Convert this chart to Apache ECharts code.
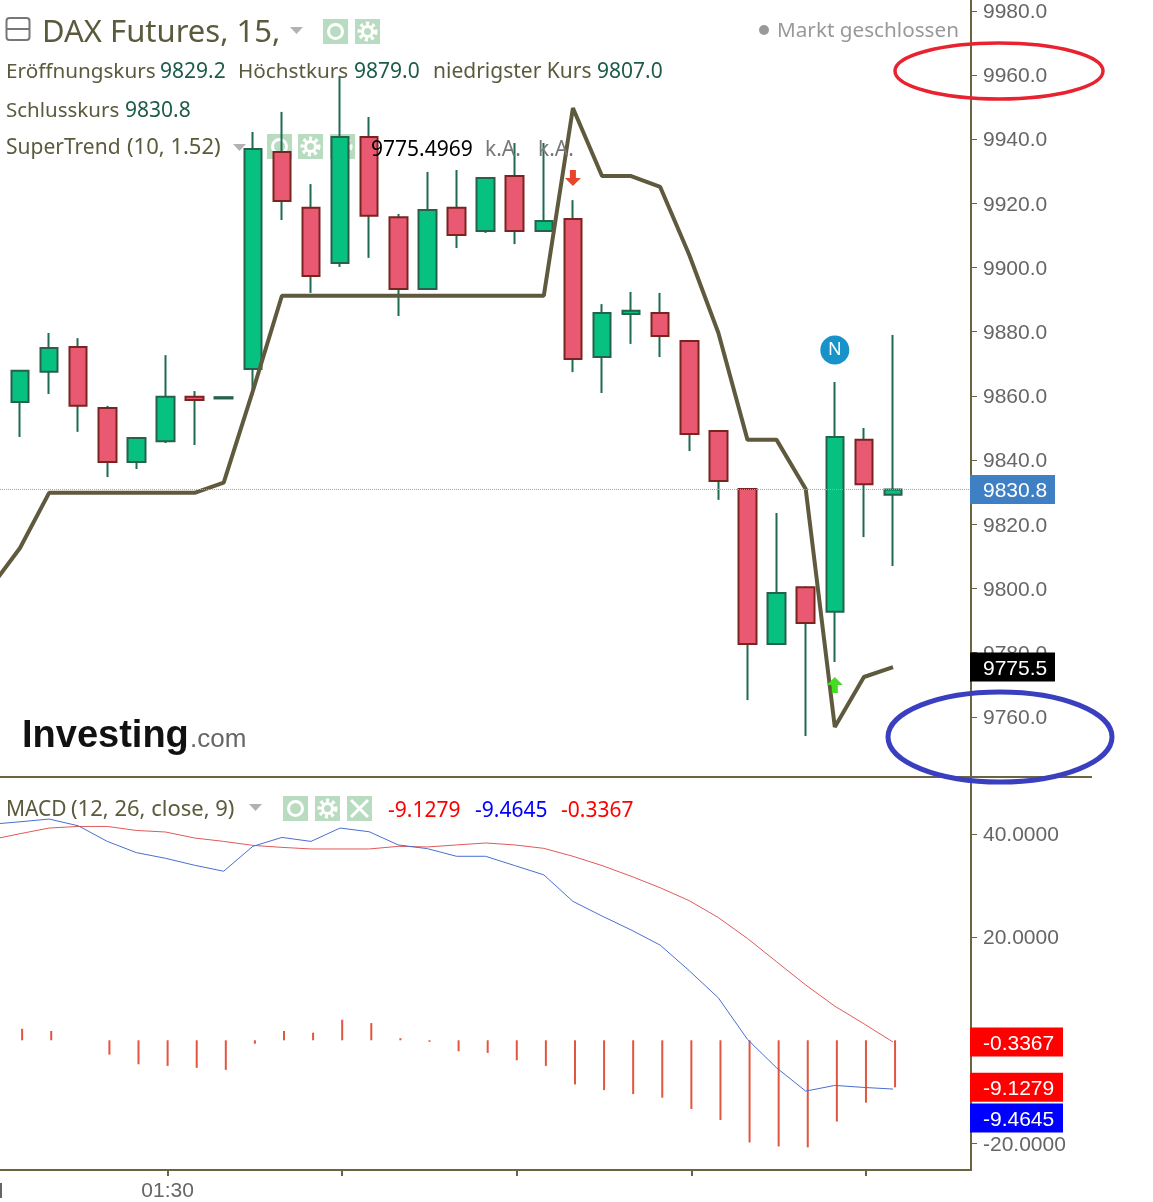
<!DOCTYPE html>
<html>
<head>
<meta charset="utf-8">
<title>DAX Futures</title>
<style>
  html, body { margin: 0; padding: 0; background: #fff; }
  #main { width: 1153px; height: 1202px; }
</style>
<script src="https://cdn.jsdelivr.net/npm/echarts@6/dist/echarts.min.js"></script>
</head>
<body>
<div id="main"></div>
<script>
// candles, index 0 is the one cut off at the left edge
var opens  = [9844.1, 9858.1, 9867.5, 9875.2, 9856.2, 9839.4, 9845.9, 9859.7, 9859.2, 9868.4, 9936.0, 9918.6, 9901.4, 9940.7, 9915.7, 9893.3,
              9918.6, 9911.4, 9928.5, 9911.4, 9915.1, 9872.1, 9885.5, 9885.8, 9877.1, 9849.1, 9831.0, 9782.7, 9800.4, 9792.7, 9846.3, 9829.2];
var closes = [9853.4, 9867.8, 9874.9, 9856.9, 9839.4, 9846.9, 9859.7, 9858.7, 9859.6, 9936.9, 9920.7, 9897.4, 9940.7, 9916.1, 9893.3, 9917.9,
              9910.1, 9927.9, 9911.4, 9914.5, 9871.5, 9885.8, 9886.5, 9878.7, 9848.1, 9833.5, 9782.7, 9798.6, 9789.2, 9847.2, 9832.5, 9830.8];
var lows   = [9843.0, 9847.2, 9860.6, 9848.8, 9834.7, 9837.2, 9845.3, 9844.7, 9859.2, 9860.3, 9914.8, 9892.1, 9900.2, 9903.0, 9884.9, 9893.0,
              9906.1, 9910.8, 9907.3, 9911.4, 9867.4, 9860.9, 9876.2, 9872.1, 9842.8, 9827.6, 9765.2, 9782.5, 9754.0, 9777.1, 9816.0, 9807.0];
var highs  = [9854.0, 9868.0, 9879.6, 9878.0, 9856.9, 9847.2, 9872.7, 9861.5, 9859.6, 9942.2, 9948.5, 9926.0, 9959.7, 9946.9, 9916.7, 9929.8,
              9930.4, 9928.2, 9938.8, 9938.8, 9921.0, 9888.6, 9892.4, 9892.1, 9877.3, 9849.3, 9831.2, 9823.5, 9800.6, 9864.3, 9850.0, 9879.0];
var superTrend = [9800.4, 9812.6, 9829.8, 9829.8, 9829.8, 9829.8, 9829.8, 9829.8, 9833.0, 9861.5, 9891.2, 9891.2, 9891.2, 9891.2, 9891.2, 9891.2,
                  9891.2, 9891.2, 9891.2, 9891.2, 9949.7, 9928.5, 9928.5, 9925.1, 9903.9, 9879.6, 9846.3, 9846.3, 9831.0, 9756.8, 9772.4, 9775.5];

// MACD pane
var macdLine = [41.91, 42.39, 42.92, 41.62, 38.59, 36.41, 35.31, 33.96, 32.80, 37.63, 39.36, 38.59, 41.18, 40.46, 37.90, 37.18,
                35.70, 35.70, 33.90, 32.10, 26.95, 24.11, 21.41, 18.46, 13.49, 8.22, 0.17, -5.35, -9.86, -8.76, -9.15, -9.4645];
var signalLine = [38.92, 40.08, 41.18, 41.49, 41.49, 40.71, 40.41, 39.25, 38.59, 37.82, 37.43, 37.12, 37.12, 37.12, 37.63, 37.51,
                  37.90, 38.28, 37.90, 37.24, 35.70, 33.90, 31.83, 29.59, 27.08, 23.80, 19.75, 15.23, 10.73, 6.62, 3.20, -0.3367];
var histogram = [0, 2.24, 1.80, 0, -2.78, -4.65, -4.97, -5.35, -5.74, -0.66, 1.80, 1.47, 3.98, 3.34, 0.40, -0.30,
                 -2.14, -2.45, -3.88, -4.97, -8.57, -9.67, -10.44, -11.14, -13.34, -15.46, -19.83, -20.60, -20.79, -15.77, -12.10, -9.1279];

// tick labels
var priceTicks = [9980, 9960, 9940, 9920, 9900, 9880, 9860, 9840, 9820, 9800, 9780, 9760];
var macdTicks = [40, 20, -20];
var timeTicks = [6, 12, 18, 24, 30];
var timeLabels = ['01:30', '', '', '', ''];

// markers on the price pane: [candle index, price]
var sellArrow = [[20, 9927.9]];
var buyArrow = [[29, 9769.9]];
var newsMark = [[29, 9874.3]];

var lastClose = 9830.8;
var lastTrend = 9775.5;

var AXIS_COLOR = '#6b6440';
var LABEL_FONT = '"Liberation Sans", Arial, sans-serif';
var UI_FONT = '"Noto Sans", sans-serif';

function pairs(list) {
  return list.map(function (v, i) { return [i, v]; });
}

// wicks are dark green on every candle, so they get their own series under the bodies
var wickData = opens.map(function (o, i) { return [i, o, closes[i], lows[i], highs[i]]; });
var bodyData = opens.map(function (o, i) {
  return [i, o, closes[i], Math.min(o, closes[i]), Math.max(o, closes[i])];
});

function xAxisFor(gridIndex, min, max) {
  return {
    type: 'value', gridIndex: gridIndex, min: min, max: max, show: false,
    splitLine: { show: false }
  };
}

// y labels sit a bit lower than plain middle alignment, the rich padding does that
var yLabelRich = { a: { color: '#666', fontFamily: LABEL_FONT, fontSize: 21, padding: [3, 0, 0, 0] } };

var chart = echarts.init(document.getElementById('main'));

var option = {
  animation: false,
  backgroundColor: '#fff',
  grid: [
    { left: 0, top: 0, width: 971, height: 777 },
    { left: 0, top: 778, width: 971, height: 394 }
  ],
  xAxis: [
    xAxisFor(0, 0.3127, 33.68),
    xAxisFor(1, 0.3127, 33.68),
    // the histogram and the time ticks sit about 2px right of the candles
    {
      type: 'value', gridIndex: 1, position: 'bottom', min: 0.24, max: 33.61,
      splitLine: { show: false },
      axisLine: { onZero: false, lineStyle: { color: AXIS_COLOR, width: 2 } },
      axisTick: { customValues: timeTicks, length: 6, lineStyle: { color: AXIS_COLOR, width: 2 } },
      axisLabel: {
        customValues: [timeTicks[0]],
        margin: 11, color: '#666', fontFamily: LABEL_FONT, fontSize: 21,
        formatter: function (v) { return timeLabels[timeTicks.indexOf(v)]; }
      }
    }
  ],
  yAxis: [
    {
      type: 'value', gridIndex: 0, position: 'right', min: 9741.24, max: 9983.37,
      splitLine: { show: false },
      axisLine: { show: true, onZero: false, lineStyle: { color: AXIS_COLOR, width: 2 } },
      axisTick: { show: true, customValues: priceTicks, length: 6, lineStyle: { color: AXIS_COLOR } },
      axisLabel: {
        customValues: priceTicks, margin: 12, rich: yLabelRich,
        formatter: function (v) { return '{a|' + v.toFixed(1) + '}'; }
      }
    },
    {
      type: 'value', gridIndex: 1, position: 'right', min: -25.17, max: 50.89,
      splitLine: { show: false },
      axisLine: { show: true, onZero: false, lineStyle: { color: AXIS_COLOR, width: 2 } },
      axisTick: { show: true, customValues: macdTicks, length: 6, lineStyle: { color: AXIS_COLOR } },
      axisLabel: {
        customValues: macdTicks, margin: 12, rich: yLabelRich,
        formatter: function (v) { return '{a|' + v.toFixed(4) + '}'; }
      }
    }
  ],
  series: [
    {
      type: 'candlestick', xAxisIndex: 0, yAxisIndex: 0, barWidth: 1, silent: true, z: 2,
      encode: { x: 0, y: [1, 2, 3, 4] },
      data: wickData,
      itemStyle: { color: '#1f6b50', color0: '#1f6b50', borderColor: '#1f6b50', borderColor0: '#1f6b50', borderWidth: 2 }
    },
    {
      type: 'candlestick', xAxisIndex: 0, yAxisIndex: 0, barWidth: 18, silent: true, z: 3,
      encode: { x: 0, y: [1, 2, 3, 4] },
      data: bodyData,
      itemStyle: { color: '#06c180', color0: '#e95a72', borderColor: '#27614c', borderColor0: '#7a2420', borderWidth: 2 },
      markLine: {
        symbol: 'none', silent: true, animation: false, label: { show: false },
        lineStyle: { type: 'dotted', color: '#8fa8c8', width: 1 },
        data: [{ yAxis: lastClose }]
      }
    },
    {
      type: 'line', xAxisIndex: 0, yAxisIndex: 0, showSymbol: false, silent: true, z: 4,
      data: pairs(superTrend),
      lineStyle: { color: '#5f5a3e', width: 4 }
    },
    {
      type: 'scatter', xAxisIndex: 0, yAxisIndex: 0, silent: true, z: 5,
      symbol: 'path://M5,0 H11 V8 H16 L8,16 L0,8 H5 Z', symbolSize: 16,
      data: sellArrow, itemStyle: { color: '#e8452c', opacity: 1 }
    },
    {
      type: 'scatter', xAxisIndex: 0, yAxisIndex: 0, silent: true, z: 5,
      symbol: 'path://M8,0 L16,8 H11 V16 H5 V8 H0 Z', symbolSize: 16,
      data: buyArrow, itemStyle: { color: '#44dd22', opacity: 1 }
    },
    {
      type: 'scatter', xAxisIndex: 0, yAxisIndex: 0, silent: true, z: 5,
      symbol: 'circle', symbolSize: 29,
      data: newsMark, itemStyle: { color: '#1793c9', opacity: 1 },
      label: { show: true, position: 'inside', formatter: 'N', color: '#fff', fontFamily: UI_FONT, fontSize: 18 }
    },
    {
      type: 'bar', xAxisIndex: 2, yAxisIndex: 1, barWidth: 2, silent: true,
      data: pairs(histogram),
      itemStyle: { color: '#e2553f' }
    },
    {
      type: 'line', xAxisIndex: 1, yAxisIndex: 1, showSymbol: false, silent: true,
      data: pairs(signalLine),
      lineStyle: { color: '#e05a5a', width: 1 }
    },
    {
      type: 'line', xAxisIndex: 1, yAxisIndex: 1, showSymbol: false, silent: true,
      data: pairs(macdLine),
      lineStyle: { color: '#4a6fd0', width: 1 }
    }
  ]
};
chart.setOption(option);

// ---- header texts, icons, price tags ----
// middle alignment draws about 2px high with these fonts, hence the +2
function txt(x, y, text, color, size, font, bold) {
  return {
    type: 'text', z: 20, silent: true,
    style: {
      x: x, y: y + 2, text: text, fill: color,
      font: (bold ? 'bold ' : '') + (size || 21) + 'px ' + (font || UI_FONT),
      verticalAlign: 'middle', align: 'left'
    }
  };
}
function caret(x, y) {
  return { type: 'polygon', z: 1, silent: true, shape: { points: [[x, y], [x + 13, y], [x + 6.5, y + 7]] }, style: { fill: '#b5b0b5' } };
}
// little green boxes with eye / gear / cross
function icon(x, y, kind) {
  var out = [{ type: 'rect', z: 1, silent: true, shape: { x: x, y: y, width: 25, height: 25 }, style: { fill: '#b9dcc1' } }];
  var cx = x + 12.5, cy = y + 12.5;
  if (kind == 'eye') {
    out.push({ type: 'circle', z: 1, silent: true, shape: { cx: cx, cy: cy, r: 7 }, style: { fill: 'none', stroke: '#fff', lineWidth: 3 } });
  } else if (kind == 'gear') {
    out.push({ type: 'circle', z: 1, silent: true, shape: { cx: cx, cy: cy, r: 8 }, style: { fill: 'none', stroke: '#fff', lineWidth: 4, lineDash: [3, 3] } });
    out.push({ type: 'circle', z: 1, silent: true, shape: { cx: cx, cy: cy, r: 5 }, style: { fill: 'none', stroke: '#fff', lineWidth: 3 } });
  } else {
    out.push({ type: 'line', z: 1, silent: true, shape: { x1: x + 4, y1: y + 4, x2: x + 21, y2: y + 21 }, style: { stroke: '#fff', lineWidth: 3 } });
    out.push({ type: 'line', z: 1, silent: true, shape: { x1: x + 21, y1: y + 4, x2: x + 4, y2: y + 21 }, style: { stroke: '#fff', lineWidth: 3 } });
  }
  return out;
}
function tag(x, y, w, text, fill) {
  return [
    { type: 'rect', z: 15, silent: true, shape: { x: x, y: y - 14.5, width: w, height: 29 }, style: { fill: fill } },
    txt(983, y, text, '#fff', 21, LABEL_FONT)
  ];
}

var OLIVE = '#5c5a3c', DKGREEN = '#1d5c4a';
var els = [];
els.push({ type: 'rect', z: 1, silent: true, shape: { x: 6.5, y: 18, width: 23, height: 22, r: 3 }, style: { fill: '#fff', stroke: '#777', lineWidth: 2 } });
els.push({ type: 'line', z: 1, silent: true, shape: { x1: 7, y1: 29, x2: 29, y2: 29 }, style: { stroke: '#777', lineWidth: 2 } });
els.push(txt(42, 31, 'DAX Futures, 15,', OLIVE, 31));
els.push(caret(290, 27));
els = els.concat(icon(323, 19, 'eye'), icon(355, 19, 'gear'));
els.push({ type: 'circle', z: 1, silent: true, shape: { cx: 764, cy: 30, r: 5 }, style: { fill: '#999' } });
els.push(txt(777, 29, 'Markt geschlossen', '#999', 20.7));

els.push(txt(6, 70, 'Eröffnungskurs', OLIVE, 20.7));
els.push(txt(160, 70, '9829.2', DKGREEN));
els.push(txt(238, 70, 'Höchstkurs', OLIVE, 20.7));
els.push(txt(354, 70, '9879.0', DKGREEN));
els.push(txt(433, 70, 'niedrigster Kurs', OLIVE));
els.push(txt(597, 70, '9807.0', DKGREEN));
els.push(txt(6, 109, 'Schlusskurs', OLIVE, 20.5));
els.push(txt(125, 109, '9830.8', DKGREEN));

els.push(txt(6, 146, 'SuperTrend', OLIVE));
els.push(txt(127, 146, '(10, 1.52)', OLIVE, 22));
els.push(caret(233, 144));
els = els.concat(icon(267, 134, 'eye'), icon(298, 134, 'gear'), icon(330, 134, 'gear'));
els.push(txt(371, 148, '9775.4969', '#000'));
els.push(txt(485, 148, 'k.A.', '#777'));
els.push(txt(538, 148, 'k.A.', '#777'));

els.push(txt(6, 808, 'MACD', OLIVE));
els.push(txt(71, 808, '(12, 26, close, 9)', OLIVE, 22));
els.push(caret(249, 804));
els = els.concat(icon(283, 796, 'eye'), icon(315, 796, 'gear'), icon(347, 796, 'x'));
els.push(txt(388, 809, '-9.1279', '#f00'));
els.push(txt(475, 809, '-9.4645', '#00f'));
els.push(txt(561, 809, '-0.3367', '#f00'));

// logo
els.push(txt(22, 735, 'Investing', '#111', 38, LABEL_FONT, true));
els.push(txt(190, 738, '.com', '#666', 26, LABEL_FONT));

// pane divider runs past the axis, cut-off label stub at the left
els.push({ type: 'line', z: 12, silent: true, shape: { x1: 0, y1: 777, x2: 1092, y2: 777 }, style: { stroke: AXIS_COLOR, lineWidth: 2 } });
els.push({ type: 'line', z: 12, silent: true, shape: { x1: 1, y1: 1183, x2: 1, y2: 1198 }, style: { stroke: '#666', lineWidth: 2 } });

// price tags follow the axis scale, the blue one is pushed down so it does not overlap
function py(v) { return chart.convertToPixel({ yAxisIndex: 0 }, v); }
function my(v) { return chart.convertToPixel({ yAxisIndex: 1 }, v); }
els = els.concat(tag(970, py(lastClose), 85, lastClose.toFixed(1), '#3f7fc4'));
els = els.concat(tag(970, py(lastTrend), 85, lastTrend.toFixed(1), '#000'));
var lastSignal = signalLine[signalLine.length - 1];
var lastHist = histogram[histogram.length - 1];
var lastMacd = macdLine[macdLine.length - 1];
els = els.concat(tag(970, my(lastSignal), 93, lastSignal.toFixed(4), '#f00'));
els = els.concat(tag(970, my(lastHist), 93, lastHist.toFixed(4), '#f00'));
els = els.concat(tag(970, my(lastMacd) + 29, 93, lastMacd.toFixed(4), '#00f'));

// hand drawn circles
els.push({ type: 'ellipse', z: 18, silent: true, shape: { cx: 999, cy: 71, rx: 104, ry: 28 }, style: { fill: 'none', stroke: '#e8232f', lineWidth: 3.5 } });
els.push({ type: 'ellipse', z: 18, silent: true, shape: { cx: 1000, cy: 737, rx: 112, ry: 45 }, style: { fill: 'none', stroke: '#3a3fc0', lineWidth: 5 } });

chart.setOption({ graphic: { elements: els } });
</script>
</body>
</html>
